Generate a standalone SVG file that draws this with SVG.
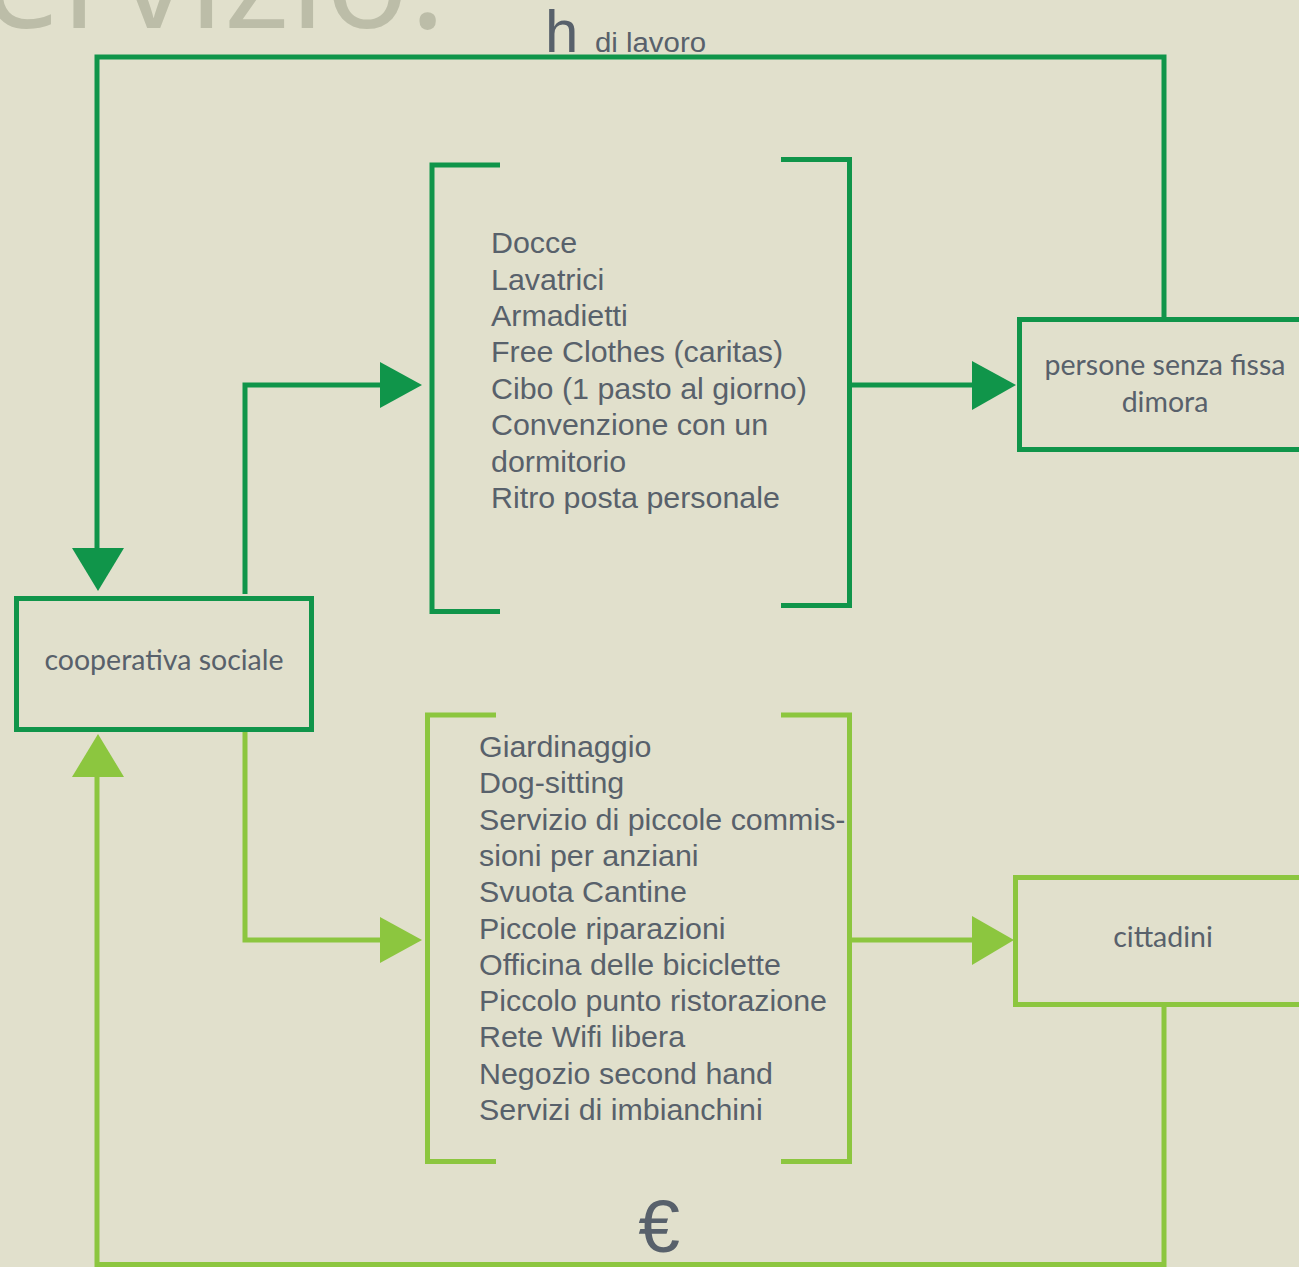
<svg xmlns="http://www.w3.org/2000/svg" width="1299" height="1267" viewBox="0 0 1299 1267">
<style>
.dk{stroke:#10954A;fill:none;stroke-width:5}
.lt{stroke:#8CC63F;fill:none;stroke-width:5}
.dkf{fill:#10954A}
.ltf{fill:#8CC63F}
.lbl{font-family:Lato,"Open Sans",sans-serif;font-size:28.5px;fill:#58616B;text-anchor:middle}
.lst{font-family:"Liberation Sans",Arial,sans-serif;font-size:30.4px;fill:#58616B}
.ar{font-family:"Liberation Sans",Arial,sans-serif;fill:#58616B}
</style>
<rect width="1299" height="1267" fill="#E1E0CC"/>
<text x="446" y="28" font-family="'Open Sans',sans-serif" font-size="140" fill="#BCBDA8" text-anchor="end">servizio:</text>
<text class="ar" x="545" y="52" font-size="60">h</text>
<text class="ar" x="595" y="52" font-size="27" textLength="111" lengthAdjust="spacingAndGlyphs">di lavoro</text>
<text class="ar" x="659" y="1252" font-size="75" text-anchor="middle">€</text>

<g id="connectors">
<polyline class="dk" points="1164,317 1164,57 97,57 97,550"/>
<polygon class="dkf" points="72,548 124,548 98,591"/>
<polyline class="dk" points="245,594 245,385 382,385"/>
<polygon class="dkf" points="380,362 380,408 422,385"/>
<line class="dk" x1="849" y1="385" x2="975" y2="385"/>
<polygon class="dkf" points="972,361 972,410 1016,385"/>
<polyline class="lt" points="245,732 245,940 382,940"/>
<polygon class="ltf" points="380,917 380,963 422,940"/>
<line class="lt" x1="849" y1="940" x2="975" y2="940"/>
<polygon class="ltf" points="972,916 972,965 1014,940"/>
<polyline class="lt" points="1164,1007 1164,1264.5 97,1264.5 97,775"/>
<polygon class="ltf" points="72,777 124,777 98,734"/>
</g>

<g id="coop">
<rect class="dk" x="16.5" y="598.5" width="295" height="131"/>
<text class="lbl" x="164" y="670">cooperativa sociale</text>
</g>

<g id="servizi-sfd">
<polyline class="dk" points="500,165 432,165 432,611.5 500,611.5"/>
<polyline class="dk" points="781,159.5 849.5,159.5 849.5,605.5 781,605.5"/>
<text class="lst" x="491">
<tspan x="491" y="253">Docce</tspan>
<tspan x="491" y="289.5">Lavatrici</tspan>
<tspan x="491" y="326">Armadietti</tspan>
<tspan x="491" y="362">Free Clothes (caritas)</tspan>
<tspan x="491" y="398.5">Cibo (1 pasto al giorno)</tspan>
<tspan x="491" y="435">Convenzione con un</tspan>
<tspan x="491" y="471.5">dormitorio</tspan>
<tspan x="491" y="508">Ritro posta personale</tspan>
</text>
</g>

<g id="persone">
<rect class="dk" x="1019.5" y="319.5" width="400" height="130"/>
<text class="lbl" x="1165" y="375">persone senza fissa</text>
<text class="lbl" x="1165" y="412">dimora</text>
</g>

<g id="servizi-cittadini">
<polyline class="lt" points="496,715 427.5,715 427.5,1161.5 496,1161.5"/>
<polyline class="lt" points="781,715 849.5,715 849.5,1161.5 781,1161.5"/>
<text class="lst">
<tspan x="479" y="757">Giardinaggio</tspan>
<tspan x="479" y="793.3">Dog-sitting</tspan>
<tspan x="479" y="829.6">Servizio di piccole commis-</tspan>
<tspan x="479" y="865.9">sioni per anziani</tspan>
<tspan x="479" y="902.2">Svuota Cantine</tspan>
<tspan x="479" y="938.5">Piccole riparazioni</tspan>
<tspan x="479" y="974.8">Officina delle biciclette</tspan>
<tspan x="479" y="1011.1">Piccolo punto ristorazione</tspan>
<tspan x="479" y="1047.4">Rete Wifi libera</tspan>
<tspan x="479" y="1083.7">Negozio second hand</tspan>
<tspan x="479" y="1120">Servizi di imbianchini</tspan>
</text>
</g>

<g id="cittadini">
<rect class="lt" x="1015.5" y="877.5" width="400" height="127"/>
<text class="lbl" x="1163" y="947">cittadini</text>
</g>
</svg>
